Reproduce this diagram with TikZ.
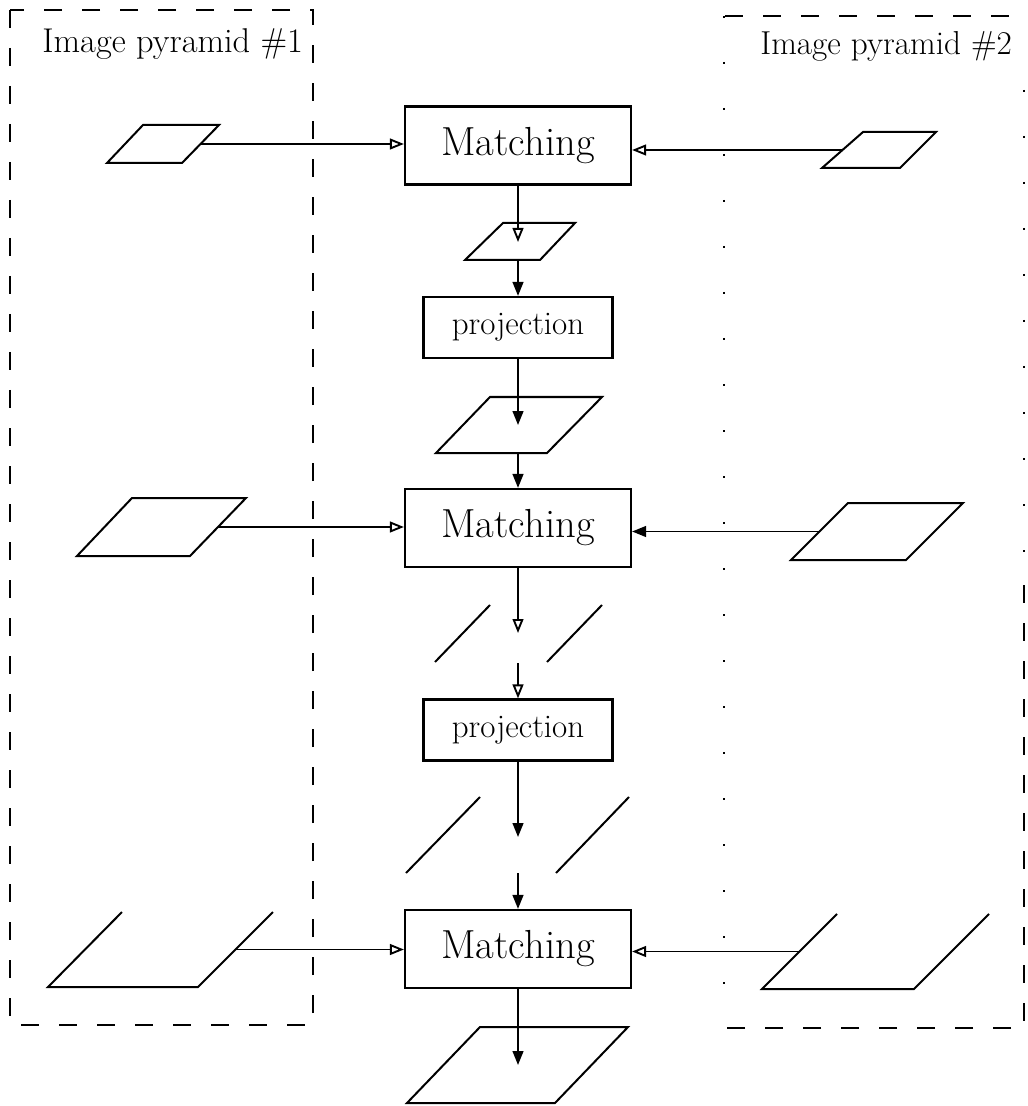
\documentclass[tikz,border=0pt]{standalone}
\usetikzlibrary{arrows.meta}
\begin{document}
\begin{tikzpicture}[x=0.5pt,y=-0.5pt,
  every node/.style={inner sep=0pt},
  matchbox/.style={draw, line width=1.1pt, minimum width=113pt, minimum height=39pt,
    font=\fontsize{20.3}{22}\selectfont},
  projbox/.style={draw, line width=1.1pt, minimum width=94.5pt, minimum height=30.5pt,
    font=\fontsize{16.5}{18}\selectfont},
  datashape/.style={line width=1pt, line join=miter},
  flow/.style={line width=0.95pt, -{Triangle[length=7pt,width=5.4pt]}},
  flowopen/.style={line width=0.95pt, -{Triangle[open,length=7pt,width=5.4pt]}},
  groupframe/.style={line width=0.9pt, dash pattern=on 9pt off 10pt},
  faintframe/.style={line width=0.6pt, dash pattern=on 1pt off 22pt},
  pyrlabel/.style={anchor=base west, font=\fontsize{17.2}{19}\selectfont}]

\useasboundingbox (0,0) rectangle (1027,1106);

% ---- pyramid frames ----
\draw[groupframe] (10,10) rectangle (313,1025);
\node[pyrlabel] (lab1) at (42,53) {Image pyramid \#1};

\draw[groupframe] (725,16) -- (1027,16);
\draw[groupframe] (1024,585) -- (1024,1028) -- (723,1028);
\draw[faintframe] (724,16) -- (724,1028);
\draw[faintframe] (1024,90) -- (1024,585);
\node[pyrlabel, font=\fontsize{16.6}{19}\selectfont] (lab2) at (760,55) {Image pyramid \#2};

% ---- processing column ----
\node[matchbox] (m1) at (518,145.5) {Matching};
\node[projbox]  (p1) at (518,327.5) {projection};
\node[matchbox] (m2) at (518,528)   {Matching};
\node[projbox]  (p2) at (518,730)   {projection};
\node[matchbox] (m3) at (518,949)   {Matching};

% ---- image levels of pyramid #1 ----
\draw[datashape] (143,125) -- (219,125) -- (182,163) -- (107,163) -- cycle;
\coordinate (l1) at (200.5,144);
\draw[datashape] (132,498) -- (246,498) -- (190,556) -- (77,556) -- cycle;
\coordinate (l2) at (218,527);
\draw[datashape] (122,912) -- (48,987) -- (198,987) -- (273,912);
\coordinate (l3) at (235.5,949.5);

% ---- image levels of pyramid #2 ----
\draw[datashape] (863,132) -- (936,132) -- (900,168) -- (822,168) -- cycle;
\coordinate (r1) at (842.5,150);
\draw[datashape] (848,503) -- (963,503) -- (906,560) -- (791,560) -- cycle;
\coordinate (r2) at (819.5,531.5);
\draw[datashape] (837,914) -- (762,989) -- (914,989) -- (989,914);
\coordinate (r3) at (799.5,951.5);

% ---- intermediate results ----
\draw[datashape] (503,223) -- (575,223) -- (540,260) -- (465,260) -- cycle;
\coordinate (c1in) at (518,242);
\coordinate (c1out) at (518,260);
\draw[datashape] (490,397) -- (602,397) -- (547,453) -- (436,453) -- cycle;
\coordinate (c2in) at (518,425);
\coordinate (c2out) at (518,453);
\draw[datashape] (490,605) -- (435,662);
\draw[datashape] (602,605) -- (547,662);
\coordinate (b1in) at (518,633);
\coordinate (b1out) at (518,663);
\draw[datashape] (480,797) -- (406,873);
\draw[datashape] (629,797) -- (556,873);
\coordinate (b2in) at (518,837);
\coordinate (b2out) at (518,873);
\draw[datashape] (480,1027) -- (628,1027) -- (555,1103) -- (407,1103) -- cycle;
\coordinate (resin) at (518,1065);

% ---- vertical flow ----
\draw[flowopen] (m1.south) -- (c1in);
\draw[flow] (c1out) -- (p1.north);
\draw[flow] (p1.south) -- (c2in);
\draw[flow] (c2out) -- (m2.north);
\draw[flowopen] (m2.south) -- (b1in);
\draw[flowopen] (b1out) -- (p2.north);
\draw[flow] (p2.south) -- (b2in);
\draw[flow] (b2out) -- (m3.north);
\draw[flow] (m3.south) -- (resin);

% ---- inputs from both pyramids ----
\draw[flowopen] (l1) -- (l1 -| m1.west);
\draw[flowopen] (r1) -- (r1 -| m1.east);
\draw[flowopen] (l2) -- (l2 -| m2.west);
\draw[flow] (r2) -- (r2 -| m2.east);
\draw[flowopen] (l3) -- (l3 -| m3.west);
\draw[flowopen] (r3) -- (r3 -| m3.east);
\end{tikzpicture}
\end{document}
